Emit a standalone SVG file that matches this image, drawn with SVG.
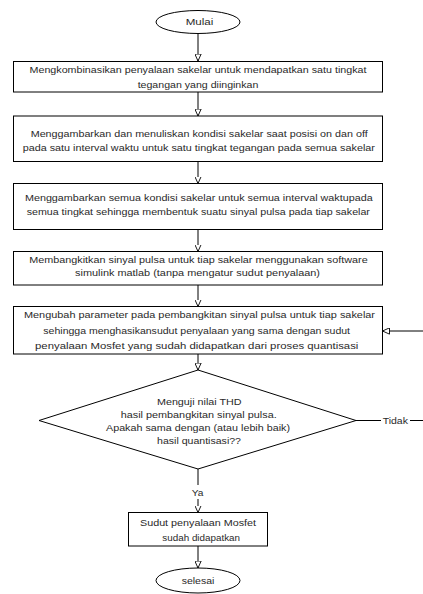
<svg xmlns="http://www.w3.org/2000/svg" width="423" height="594" viewBox="0 0 423 594">
<style>
.s{fill:#fff;stroke:#000;stroke-width:1}
.t{font-family:"Liberation Sans",Arial,sans-serif;font-size:9px;fill:#2a2a2a;text-anchor:middle}
.c{fill:none;stroke:#000;stroke-width:1}
</style>
<defs>
<marker id="ah" viewBox="0 0 10 10" refX="10" refY="5" markerWidth="7" markerHeight="7" markerUnits="userSpaceOnUse" orient="auto">
<path d="M0,0.5 L10,5 L0,9.5 Z" fill="#fff" stroke="#000" stroke-width="1.3"/>
</marker>
</defs>
<rect width="423" height="594" fill="#fff"/>
<g id="connectors">
<line class="c" x1="198" y1="33.5" x2="198" y2="61" marker-end="url(#ah)"/>
<line class="c" x1="198" y1="92" x2="198" y2="116" marker-end="url(#ah)"/>
<line class="c" x1="198" y1="161.5" x2="198" y2="183.5" marker-end="url(#ah)"/>
<line class="c" x1="198" y1="229.5" x2="198" y2="251.5" marker-end="url(#ah)"/>
<line class="c" x1="198" y1="285" x2="198" y2="306.5" marker-end="url(#ah)"/>
<line class="c" x1="198" y1="354" x2="198" y2="370" marker-end="url(#ah)"/>
<line class="c" x1="198" y1="469" x2="198" y2="485"/>
<line class="c" x1="198" y1="499" x2="198" y2="512.5" marker-end="url(#ah)"/>
<line class="c" x1="198" y1="546" x2="198" y2="568" marker-end="url(#ah)"/>
<line class="c" x1="356" y1="420.5" x2="381" y2="420.5"/>
<polyline class="c" points="410,420.5 424,420.5 424,331 382.5,331" marker-end="url(#ah)"/>
<text class="t" x="197.5" y="495.5" textLength="11.7" lengthAdjust="spacingAndGlyphs">Ya</text>
<text class="t" x="395.3" y="423.5" textLength="25.3" lengthAdjust="spacingAndGlyphs">Tidak</text>
</g>
<g id="start">
<ellipse class="s" cx="198" cy="22" rx="42" ry="11.5"/>
<text class="t" x="199.5" y="25.3" textLength="27.7" lengthAdjust="spacingAndGlyphs">Mulai</text>
</g>
<g id="box1">
<rect class="s" x="13.5" y="61.5" width="369" height="30.5"/>
<text class="t" x="198" y="72.7" textLength="337" lengthAdjust="spacingAndGlyphs">Mengkombinasikan penyalaan sakelar untuk mendapatkan satu tingkat</text>
<text class="t" x="198" y="87.5" textLength="120.7" lengthAdjust="spacingAndGlyphs">tegangan yang diinginkan</text>
</g>
<g id="box2">
<rect class="s" x="13.5" y="116" width="369" height="45.5"/>
<text class="t" x="199.2" y="136.5" textLength="337" lengthAdjust="spacingAndGlyphs">Menggambarkan dan menuliskan kondisi sakelar saat posisi on dan off</text>
<text class="t" x="198.8" y="150.5" textLength="352.3" lengthAdjust="spacingAndGlyphs">pada satu interval waktu untuk satu tingkat tegangan pada semua sakelar</text>
</g>
<g id="box3">
<rect class="s" x="13.5" y="183.5" width="369" height="46"/>
<text class="t" x="198.8" y="201" textLength="347.7" lengthAdjust="spacingAndGlyphs">Menggambarkan semua kondisi sakelar untuk semua interval waktupada</text>
<text class="t" x="198.3" y="215" textLength="343.3" lengthAdjust="spacingAndGlyphs">semua tingkat sehingga membentuk suatu sinyal pulsa pada tiap sakelar</text>
</g>
<g id="box4">
<rect class="s" x="13.5" y="251.5" width="369" height="33.5"/>
<text class="t" x="198.5" y="263.2" textLength="338.3" lengthAdjust="spacingAndGlyphs">Membangkitkan sinyal pulsa untuk tiap sakelar menggunakan software</text>
<text class="t" x="197.5" y="275.5" textLength="245" lengthAdjust="spacingAndGlyphs">simulink matlab (tanpa mengatur sudut penyalaan)</text>
</g>
<g id="box5">
<rect class="s" x="13.5" y="306.5" width="369" height="47.5"/>
<text class="t" x="199.5" y="318.3" textLength="351" lengthAdjust="spacingAndGlyphs">Mengubah parameter pada pembangkitan sinyal pulsa untuk tiap sakelar</text>
<text class="t" x="196.7" y="334" textLength="306.7" lengthAdjust="spacingAndGlyphs">sehingga menghasikansudut penyalaan yang sama dengan sudut</text>
<text class="t" x="196.7" y="349.3" textLength="323.3" lengthAdjust="spacingAndGlyphs">penyalaan Mosfet yang sudah didapatkan dari proses quantisasi</text>
</g>
<g id="decision">
<polygon class="s" points="198,370 356,420.5 198,469 39,420.5"/>
<text class="t" x="199.3" y="405" textLength="84.7" lengthAdjust="spacingAndGlyphs">Menguji nilai THD</text>
<text class="t" x="198.7" y="417.6" textLength="156" lengthAdjust="spacingAndGlyphs">hasil pembangkitan sinyal pulsa.</text>
<text class="t" x="198" y="430.6" textLength="184" lengthAdjust="spacingAndGlyphs">Apakah sama dengan (atau lebih baik)</text>
<text class="t" x="199" y="444.3" textLength="84" lengthAdjust="spacingAndGlyphs">hasil quantisasi??</text>
</g>
<g id="box6">
<rect class="s" x="128.5" y="512.5" width="139" height="33.5"/>
<text class="t" x="198" y="526.3" textLength="116" lengthAdjust="spacingAndGlyphs">Sudut penyalaan Mosfet</text>
<text class="t" x="201.2" y="541" textLength="77.7" lengthAdjust="spacingAndGlyphs">sudah didapatkan</text>
</g>
<g id="end">
<ellipse class="s" cx="198" cy="580.5" rx="42" ry="12.5"/>
<text class="t" x="198" y="584" textLength="32.7" lengthAdjust="spacingAndGlyphs">selesai</text>
</g>
</svg>
